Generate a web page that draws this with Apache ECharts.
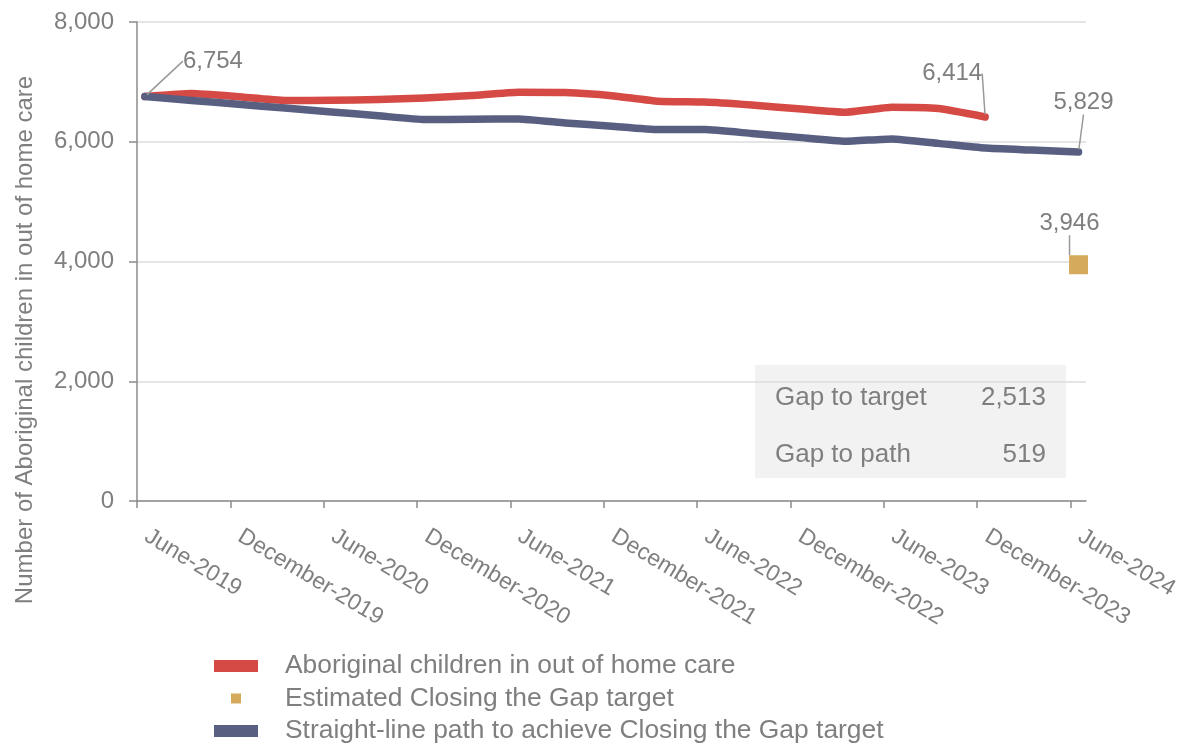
<!DOCTYPE html>
<html>
<head>
<meta charset="utf-8">
<script src="https://cdn.jsdelivr.net/npm/echarts@6/dist/echarts.min.js"></script>
<style>
html,body{margin:0;padding:0;background:#ffffff;}
#c{width:1186px;height:744px;}
</style>
</head>
<body>
<div id="c"></div>
<script>
// ---- data ----
const quarters = ['Jun-2019','Sep-2019','Dec-2019','Mar-2020','Jun-2020','Sep-2020','Dec-2020','Mar-2021','Jun-2021','Sep-2021','Dec-2021','Mar-2022','Jun-2022','Sep-2022','Dec-2022','Mar-2023','Jun-2023','Sep-2023','Dec-2023','Mar-2024','Jun-2024'];
const tickLabels = ['June-2019','December-2019','June-2020','December-2020','June-2021','December-2021','June-2022','December-2022','June-2023','December-2023','June-2024'];
const actualValues = [6754,6804,6752,6690,6692,6704,6732,6771,6826,6822,6770,6675,6662,6612,6552,6493,6576,6554,6414];
const pathValues = [6754,6690,6626,6562,6498,6434,6370,6376,6382,6315,6259,6203,6203,6138,6073,6008,6048,5973,5895,5862,5829];
const targetQuarter = 'Jun-2024';
const targetValue = 3946;
const yTicks = [0,2000,4000,6000,8000];
const gapLabels = ['Gap to target','Gap to path'];
const gapValues = ['2,513','519'];
const seriesNames = ['Aboriginal children in out of home care','Estimated Closing the Gap target','Straight-line path to achieve Closing the Gap target'];

// ---- style ----
const RED = '#d64a45', NAVY = '#595f80', GOLD = '#d6aa5c', TXT = '#7f7f7f', AX = '#8c8c8c';
const FONT = '"Liberation Sans", Arial, sans-serif';
const TICK_SHIFT = -0.17; // date ticks sit slightly before the quarter points
const fmt = v => Number(v).toLocaleString('en-US');

const labelledActual = [actualValues.length - 1];
const labelledPath = [0, pathValues.length - 1];

function buildData(values, labelled) {
  return values.map((v, i) => {
    const item = { value: [i, v] };
    if (labelled.indexOf(i) >= 0) item.label = { show: true };
    return item;
  });
}

const labelStyle = {
  show: false, position: 'top', distance: 5,
  fontFamily: FONT, fontSize: 24, color: TXT,
  formatter: p => fmt(p.value[1])
};
const lineLabelLine = { show: true, lineStyle: { color: '#999999', width: 1.5 } };

const chart = echarts.init(document.getElementById('c'), null, { renderer: 'canvas' });
const option = {
  animation: false,
  backgroundColor: '#ffffff',
  textStyle: { fontFamily: FONT },
  grid: { left: 137, right: 100, top: 22, bottom: 243, outerBoundsMode: 'none' },
  xAxis: {
    type: 'value',
    min: TICK_SHIFT,
    max: quarters.length - 1 + 0.16,
    axisLine: { show: true, onZero: false, lineStyle: { color: AX, width: 1.5 } },
    axisTick: { show: true, length: 7, lineStyle: { color: AX, width: 1.5 },
      customValues: tickLabels.map((_, k) => 2 * k + TICK_SHIFT) },
    splitLine: { show: false },
    axisLabel: {
      customValues: tickLabels.map((_, k) => 2 * k + TICK_SHIFT),
      rotate: -31, margin: 28, padding: [0, 0, 0, 11],
      fontFamily: FONT, fontSize: 23, color: TXT,
      formatter: v => tickLabels[Math.round((v - TICK_SHIFT) / 2)] || ''
    }
  },
  yAxis: {
    type: 'value',
    min: yTicks[0], max: yTicks[yTicks.length - 1], interval: yTicks[1] - yTicks[0],
    name: 'Number of Aboriginal children in out of home care',
    nameLocation: 'middle',
    nameGap: 100,
    nameTextStyle: { fontFamily: FONT, fontSize: 24, color: TXT, padding: [0, 157, 0, 0] },
    axisLine: { show: true, onZero: false, lineStyle: { color: AX, width: 1.5 } },
    axisTick: { show: true, length: 8, lineStyle: { color: AX, width: 1.5 } },
    splitLine: { show: true, lineStyle: { color: '#dcdcdc', width: 1.5 } },
    axisLabel: { margin: 23, fontFamily: FONT, fontSize: 24, color: TXT, formatter: v => fmt(v) }
  },
  legend: {
    show: true,
    orient: 'vertical',
    left: 214, top: 653,
    width: 900, height: 140,
    padding: 0,
    itemWidth: 44, itemHeight: 12, itemGap: 6.5,
    textStyle: { fontFamily: FONT, fontSize: 26.4, color: TXT, lineHeight: 24, padding: [0, 0, 0, 22] },
    data: [
      { name: seriesNames[0], icon: 'rect' },
      { name: seriesNames[1], icon: 'path://M0,0L0,0M44,12L44,12M17,1h10v10h-10z' },
      { name: seriesNames[2], icon: 'rect' }
    ]
  },
  series: [
    {
      name: seriesNames[0],
      type: 'line',
      data: buildData(actualValues, labelledActual),
      color: RED,
      smooth: 0.15,
      symbol: 'circle', symbolSize: 5, showSymbol: true, showAllSymbol: true,
      itemStyle: { color: RED },
      lineStyle: { color: RED, width: 7.5, cap: 'round', join: 'round' },
      label: labelStyle,
      labelLine: lineLabelLine,
      labelLayout: p => (p.dataIndex === actualValues.length - 1 ? { dx: -33, dy: -24 } : {}),
      z: 3
    },
    {
      name: seriesNames[2],
      type: 'line',
      data: buildData(pathValues, labelledPath),
      color: NAVY,
      smooth: 0.15,
      symbol: 'circle', symbolSize: 5, showSymbol: true, showAllSymbol: true,
      itemStyle: { color: NAVY },
      lineStyle: { color: NAVY, width: 7.5, cap: 'round', join: 'round' },
      label: labelStyle,
      labelLine: lineLabelLine,
      labelLayout: p => (p.dataIndex === 0 ? { dx: 68, dy: -16 } : (p.dataIndex === pathValues.length - 1 ? { dx: 5, dy: -30 } : {})),
      z: 4
    },
    {
      name: seriesNames[1],
      type: 'scatter',
      data: [{ value: [quarters.indexOf(targetQuarter), targetValue], label: { show: true } }],
      color: GOLD,
      symbol: 'rect', symbolSize: 19,
      itemStyle: { color: GOLD, opacity: 1 },
      label: labelStyle,
      labelLine: lineLabelLine,
      labelLayout: { dx: -9, dy: -15 },
      z: 5
    }
  ],
  graphic: [
    {
      type: 'group', left: 755, top: 365, z: 10,
      children: [
        { type: 'rect', shape: { x: 0, y: 0, width: 311, height: 113 }, style: { fill: '#f2f2f2' } },
        { type: 'text', x: 20, y: 33, style: { text: gapLabels[0], font: '26px ' + FONT, fill: TXT, textAlign: 'left', textVerticalAlign: 'middle' } },
        { type: 'text', x: 291, y: 33, style: { text: gapValues[0], font: '26px ' + FONT, fill: TXT, textAlign: 'right', textVerticalAlign: 'middle' } },
        { type: 'text', x: 20, y: 90, style: { text: gapLabels[1], font: '26px ' + FONT, fill: TXT, textAlign: 'left', textVerticalAlign: 'middle' } },
        { type: 'text', x: 291, y: 90, style: { text: gapValues[1], font: '26px ' + FONT, fill: TXT, textAlign: 'right', textVerticalAlign: 'middle' } }
      ]
    }
  ]
};
chart.setOption(option);
</script>
</body>
</html>
